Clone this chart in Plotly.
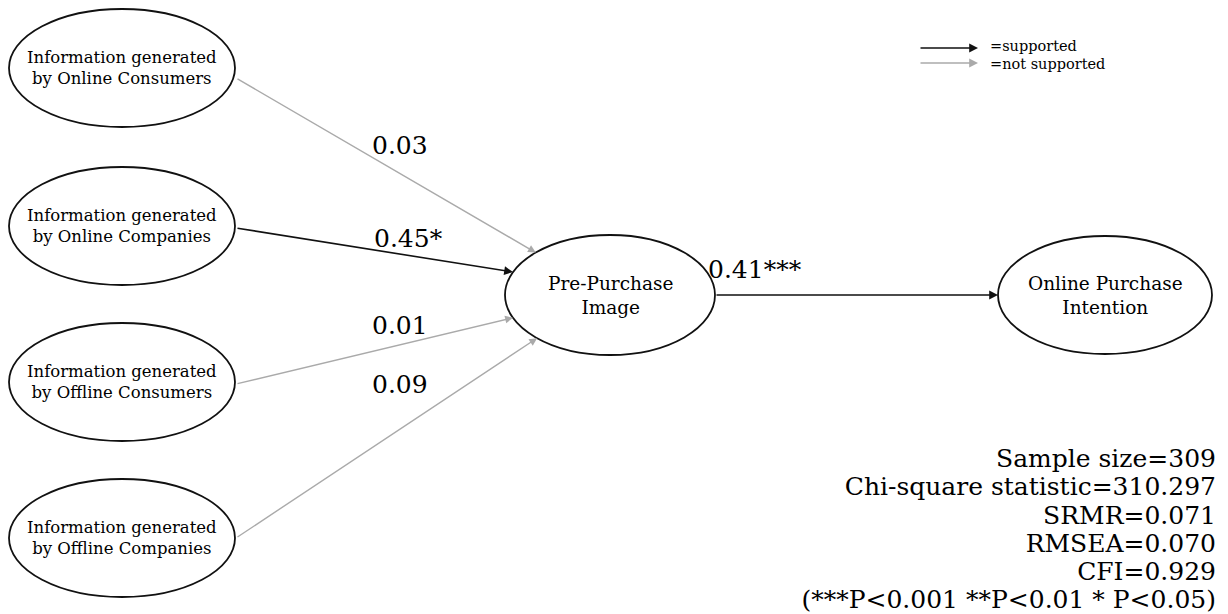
import math
import plotly.graph_objects as go

# ---------------- data ----------------
exogenous_labels = [
    "Information generated<br>by Online Consumers",
    "Information generated<br>by Online Companies",
    "Information generated<br>by Offline Consumers",
    "Information generated<br>by Offline Companies",
]
path_coefs = [0.03, 0.45, 0.01, 0.09]
path_sig = ["", "*", "", ""]
path_supported = [False, True, False, False]

mediator_label = "Pre-Purchase<br>Image"
outcome_label = "Online Purchase<br>Intention"
mediator_coef = 0.41
mediator_sig = "***"
mediator_supported = True

fit_labels = ["Sample size", "Chi-square statistic", "SRMR", "RMSEA", "CFI"]
fit_values = ["309", "310.297", "0.071", "0.070", "0.929"]
sig_note = "(***P<0.001 **P<0.01 * P<0.05)"

legend_labels = ["=supported", "=not supported"]

# ---------------- layout constants ----------------
W, H = 1228, 614
FONT = "DejaVu Serif"
BLACK = "#111111"
GRAY = "#aaaaaa"

src_cx, src_rx, src_ry = 122, 113, 59
src_cy = [68, 226, 382, 538]
src_dy = [10, 2, 2, 0]
med_cx, med_cy, med_rx, med_ry = 610, 295, 105, 60
out_cx, out_cy, out_rx, out_ry = 1105, 295, 107, 59
end_angles = [225, 202.5, 157.7, 134]
label_pos = [(400, 145), (408, 238), (400, 325), (400, 384)]

fig = go.Figure()
shapes = []
annotations = []


def ellipse(cx, cy, rx, ry):
    shapes.append(dict(type="circle", xref="x", yref="y",
                       x0=cx - rx, x1=cx + rx, y0=cy - ry, y1=cy + ry,
                       line=dict(color=BLACK, width=1.8), fillcolor="rgba(0,0,0,0)"))


def arrow(x0, y0, x1, y1, color, width):
    annotations.append(dict(x=x1, y=y1, ax=x0, ay=y0, xref="x", yref="y",
                            axref="x", ayref="y", text="", showarrow=True,
                            arrowhead=2, arrowsize=1.1, arrowwidth=width,
                            arrowcolor=color, standoff=0, startstandoff=0))


def text(x, y, s, size, xanchor="center"):
    annotations.append(dict(x=x, y=y, xref="x", yref="y", text=s, showarrow=False,
                            xanchor=xanchor, yanchor="middle", borderpad=0,
                            font=dict(family=FONT, size=size, color="#000000")))


for i, lab in enumerate(exogenous_labels):
    cy = src_cy[i]
    ellipse(src_cx, cy, src_rx, src_ry)
    text(src_cx, cy, lab, 16.5)
    a = math.radians(end_angles[i])
    ex = med_cx + med_rx * math.cos(a)
    ey = med_cy + med_ry * math.sin(a)
    sup = path_supported[i]
    arrow(src_cx + src_rx + 1, cy + src_dy[i], ex, ey,
          BLACK if sup else GRAY, 1.6 if sup else 1.4)
    lx, ly = label_pos[i]
    text(lx, ly, f"{path_coefs[i]:.2f}{path_sig[i]}", 25)

ellipse(med_cx, med_cy, med_rx, med_ry)
text(med_cx, med_cy, mediator_label, 18.5)
ellipse(out_cx, out_cy, out_rx, out_ry)
text(out_cx, out_cy, outcome_label, 18.5)
arrow(med_cx + med_rx, med_cy, out_cx - out_rx, out_cy,
      BLACK if mediator_supported else GRAY, 1.6)
text(755, 269, f"{mediator_coef:.2f}{mediator_sig}", 25)

# fit statistics (text trace, right-aligned)
fit_lines = [f"{l}={v}" for l, v in zip(fit_labels, fit_values)] + [sig_note]
fig.add_trace(go.Scatter(
    x=[1216] * len(fit_lines),
    y=[461 + k * 28.2 for k in range(len(fit_lines))],
    text=fit_lines, mode="text", textposition="middle left",
    textfont=dict(family=FONT, size=25, color="#000000"),
    hoverinfo="skip", showlegend=False,
))

# legend
arrow(919, 48, 978, 48, BLACK, 1.6)
arrow(919, 63, 978, 63, GRAY, 1.6)
text(989, 46, legend_labels[0], 14.5, xanchor="left")
text(989, 64, legend_labels[1], 14.5, xanchor="left")

fig.update_layout(
    width=W, height=H,
    margin=dict(l=0, r=0, t=0, b=0),
    paper_bgcolor="white", plot_bgcolor="white",
    xaxis=dict(range=[0, W], visible=False, fixedrange=True),
    yaxis=dict(range=[H, 0], visible=False, fixedrange=True),
    shapes=shapes, annotations=annotations, showlegend=False,
)

fig.write_html("out.html", config={"displayModeBar": False},
               post_script="document.body.style.margin='0';")
